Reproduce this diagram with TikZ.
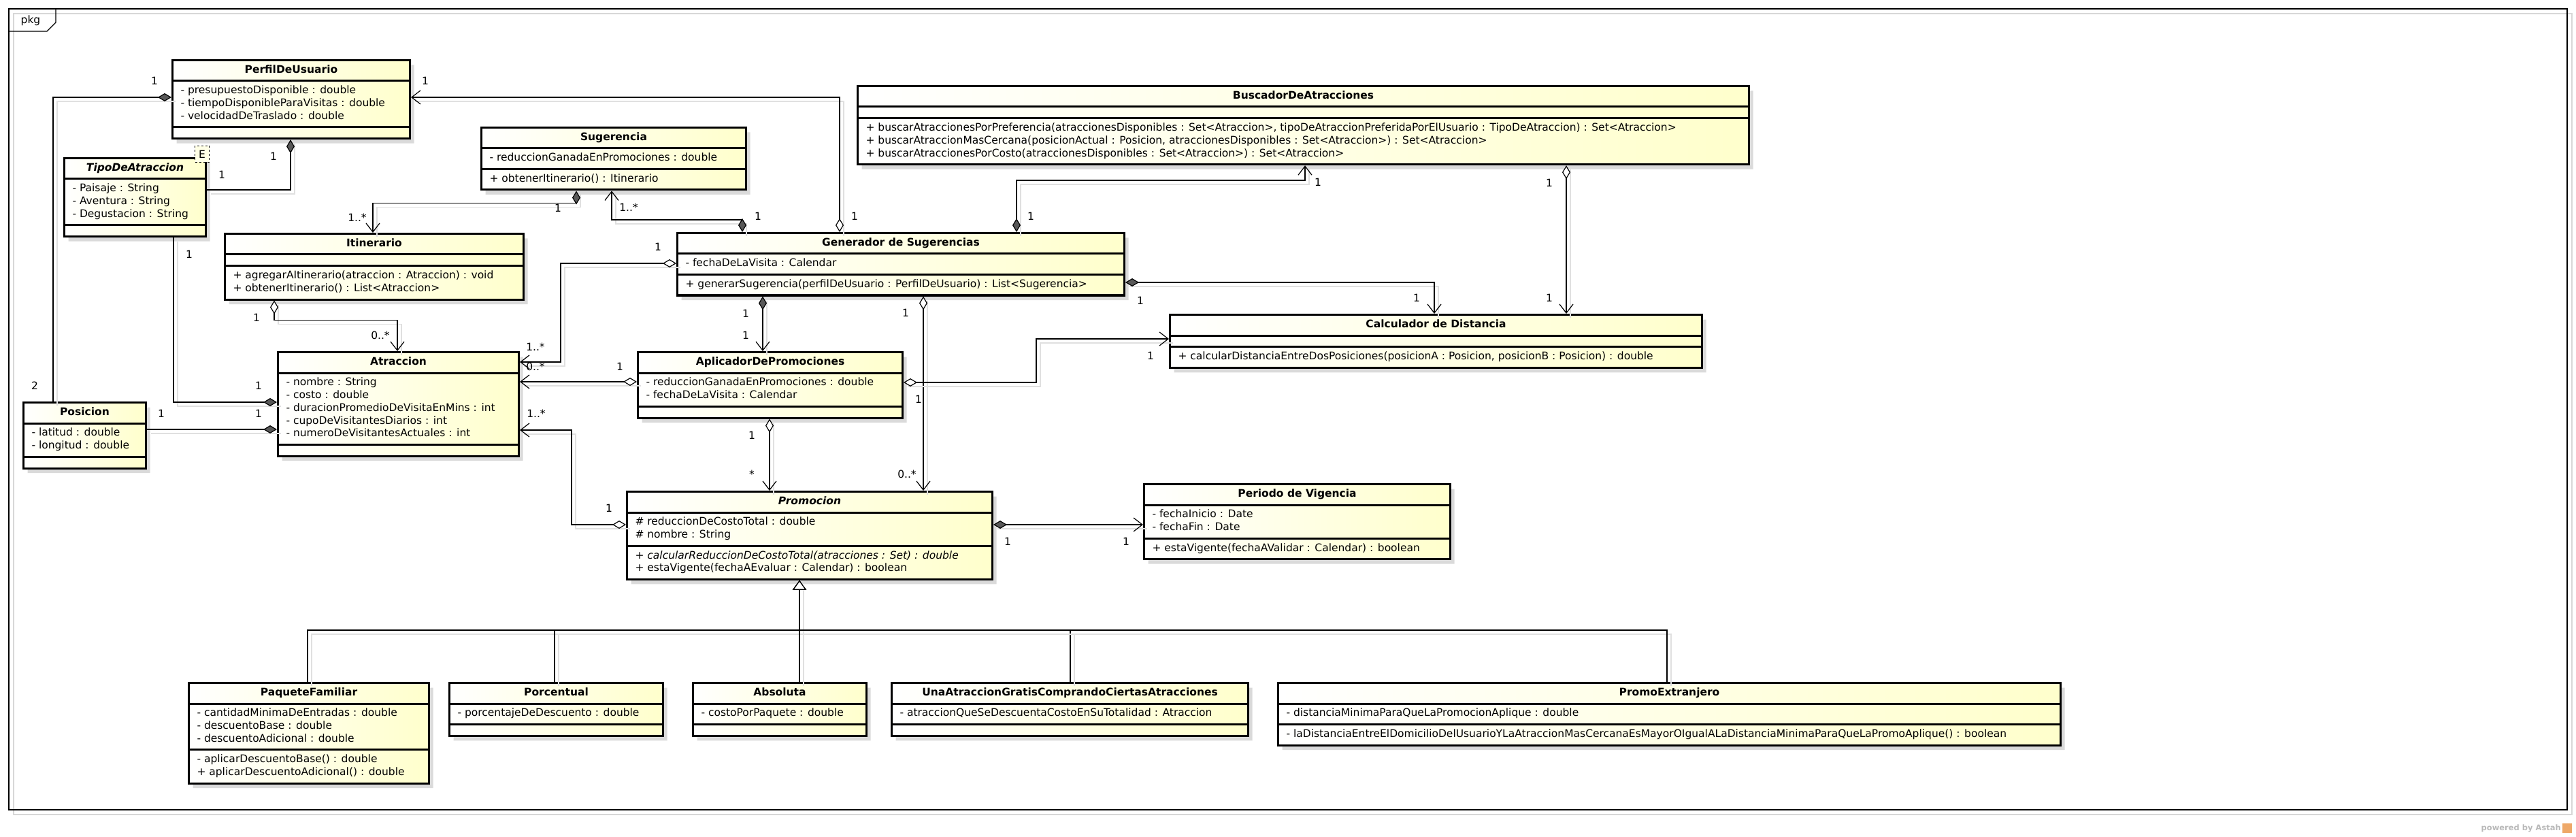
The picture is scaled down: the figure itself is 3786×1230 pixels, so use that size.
\documentclass[tikz,border=0pt]{standalone}
\usepackage{fontspec}
\setmainfont{DejaVu Sans}
\usetikzlibrary{shapes.multipart, arrows.meta, positioning, shadows}
\definecolor{UMLYellow}{RGB}{255, 255, 204}
\definecolor{UMLShadow}{RGB}{218, 218, 218}
\definecolor{UMLLineShadow}{RGB}{224, 224, 224}
\definecolor{UMLDiamond}{RGB}{88, 88, 88}
\definecolor{UMLFrameShadow}{RGB}{215, 215, 215}
\definecolor{AstahGrey}{RGB}{185, 185, 185}
\definecolor{AstahOrange}{RGB}{238, 168, 104}
\newcommand{\emptypart}{\rule{0pt}{5pt}}

\begin{document}
\begin{tikzpicture}[
    x=1pt, y=-1pt,
    % --- STYLES ---
    % Base: DejaVu Sans at the size Astah prints
    base/.style={
        font=\fontsize{15.5}{18.7}\selectfont,
        text=black
    },
    % Class: name, attributes, operations
    umlclass/.style={
        base,
        rectangle split,
        rectangle split parts=3,
        rectangle split part align={center,left,left},
        rectangle split ignore empty parts=false,
        align=left,
        draw=black,
        line width=0.8pt,
        left color=white,
        right color=UMLYellow,
        inner xsep=12pt,
        inner ysep=5.5pt,
        outer sep=1.5pt,
        anchor=north west,
        drop shadow={shadow xshift=6pt, shadow yshift=-7pt, fill=UMLShadow, opacity=1},
        postaction={draw=black, line width=3pt}
    },
    % Enumeration mark
    stereo/.style={
        base,
        draw=black,
        dashed,
        line width=0.8pt,
        fill=UMLYellow!50,
        minimum width=21pt,
        minimum height=24pt,
        inner sep=0pt
    },
    % Multiplicities
    mult/.style={
        base,
        inner sep=0pt
    },
    % Links: thin black line with a grey copy below right
    link/.style={
        line width=1.2pt,
        draw=black,
        preaction={draw=UMLLineShadow, line width=1.6pt, arrows=-, transform canvas={shift={(6pt,-6pt)}}}
    },
    % Composition, no navigation
    comp/.style={
        link,
        {Diamond[length=20pt, width=12pt, fill=UMLDiamond]}-
    },
    % Composition, navigable
    compnav/.style={
        link,
        {Diamond[length=20pt, width=12pt, fill=UMLDiamond]}-{Straight Barb[length=13pt, width=20pt]}
    },
    % Aggregation, navigable
    aggrnav/.style={
        link,
        {Diamond[length=20pt, width=12pt, fill=white]}-{Straight Barb[length=13pt, width=20pt]}
    },
    % Generalization
    inherit/.style={
        link,
        -{Triangle[length=14pt, width=20pt, fill=white]}
    },
    frameline/.style={
        draw=black,
        line width=1.4pt
    }
]

\useasboundingbox (0,0) rectangle (3786,1230);

% --- FRAME ---
\draw [draw=UMLFrameShadow, line width=1.4pt] (20,20) rectangle (3780,1197);
\draw [frameline] (13,13) rectangle (3773,1190);
\draw [frameline] (13,46) -- (69,46) -- (82,33) -- (82,13);
\node (pkg) [base] at (45,30) {pkg};

% --- 1. PROFILE, TYPES AND ATTRACTIONS ---

\node (perfil) [umlclass, minimum width=349pt] at (252,87)
    {\strut\textbf{PerfilDeUsuario}%
     \nodepart{two}\strut- presupuestoDisponible : double\\- tiempoDisponibleParaVisitas : double\\- velocidadDeTraslado : double\strut%
     \nodepart{three}\emptypart};
\node (tipo) [umlclass, minimum width=208pt] at (93,231)
    {\strut\textbf{\textit{TipoDeAtraccion}}%
     \nodepart{two}\strut- Paisaje : String\\- Aventura : String\\- Degustacion : String\strut%
     \nodepart{three}\emptypart};
\node (tipoE) [stereo, anchor=north east] at ([xshift=4pt, yshift=17pt]tipo.north east) {E};
\node (itinerario) [umlclass, minimum width=439pt] at (329,342)
    {\strut\textbf{Itinerario}%
     \nodepart{two}\emptypart%
     \nodepart{three}\strut+ agregarAItinerario(atraccion : Atraccion) : void\\+ obtenerItinerario() : List<Atraccion>\strut};
\node (posicion) [umlclass, minimum width=180pt] at (33,590)
    {\strut\textbf{Posicion}%
     \nodepart{two}\strut- latitud : double\\- longitud : double\strut%
     \nodepart{three}\emptypart};
\node (atraccion) [umlclass, minimum width=354pt] at (407,516)
    {\strut\textbf{Atraccion}%
     \nodepart{two}\strut- nombre : String\\- costo : double\\- duracionPromedioDeVisitaEnMins : int\\- cupoDeVisitantesDiarios : int\\- numeroDeVisitantesActuales : int\strut%
     \nodepart{three}\emptypart};

% --- 2. SUGGESTION ENGINE ---

\node (sugerencia) [umlclass, minimum width=389pt] at (706,186)
    {\strut\textbf{Sugerencia}%
     \nodepart{two}\strut- reduccionGanadaEnPromociones : double\strut%
     \nodepart{three}\strut+ obtenerItinerario() : Itinerario\strut};
\node (generador) [umlclass, minimum width=657pt] at (994,341)
    {\strut\textbf{Generador de Sugerencias}%
     \nodepart{two}\strut- fechaDeLaVisita : Calendar\strut%
     \nodepart{three}\strut+ generarSugerencia(perfilDeUsuario : PerfilDeUsuario) : List<Sugerencia>\strut};
\node (buscador) [umlclass, minimum width=1310pt] at (1259,125)
    {\strut\textbf{BuscadorDeAtracciones}%
     \nodepart{two}\emptypart%
     \nodepart{three}\strut+ buscarAtraccionesPorPreferencia(atraccionesDisponibles : Set<Atraccion>, tipoDeAtraccionPreferidaPorElUsuario : TipoDeAtraccion) : Set<Atraccion>\\+ buscarAtraccionMasCercana(posicionActual : Posicion, atraccionesDisponibles : Set<Atraccion>) : Set<Atraccion>\\+ buscarAtraccionesPorCosto(atraccionesDisponibles : Set<Atraccion>) : Set<Atraccion>\strut};
\node (calculador) [umlclass, minimum width=782pt] at (1718,461)
    {\strut\textbf{Calculador de Distancia}%
     \nodepart{two}\emptypart%
     \nodepart{three}\strut+ calcularDistanciaEntreDosPosiciones(posicionA : Posicion, posicionB : Posicion) : double\strut};

% --- 3. PROMOTIONS ---

\node (aplicador) [umlclass, minimum width=389pt] at (936,516)
    {\strut\textbf{AplicadorDePromociones}%
     \nodepart{two}\strut- reduccionGanadaEnPromociones : double\\- fechaDeLaVisita : Calendar\strut%
     \nodepart{three}\emptypart};
\node (promocion) [umlclass, minimum width=537pt] at (920,721)
    {\strut\textbf{\textit{Promocion}}%
     \nodepart{two}\strut\# reduccionDeCostoTotal : double\\\# nombre : String\strut%
     \nodepart{three}\strut+ \textit{calcularReduccionDeCostoTotal(atracciones : Set) : double}\\+ estaVigente(fechaAEvaluar : Calendar) : boolean\strut};
\node (periodo) [umlclass, minimum width=450pt] at (1680,710)
    {\strut\textbf{Periodo de Vigencia}%
     \nodepart{two}\strut- fechaInicio : Date\\- fechaFin : Date\strut%
     \nodepart{three}\strut+ estaVigente(fechaAValidar : Calendar) : boolean\strut};

% --- 4. PROMOTION KINDS (Row, Left to Right) ---

\node (paquete) [umlclass, minimum width=353pt] at (276,1002)
    {\strut\textbf{PaqueteFamiliar}%
     \nodepart{two}\strut- cantidadMinimaDeEntradas : double\\- descuentoBase : double\\- descuentoAdicional : double\strut%
     \nodepart{three}\strut- aplicarDescuentoBase() : double\\+ aplicarDescuentoAdicional() : double\strut};
\node (porcentual) [umlclass, minimum width=314pt, right=27pt of paquete.north east, anchor=north west]
    {\strut\textbf{Porcentual}%
     \nodepart{two}\strut- porcentajeDeDescuento : double\strut%
     \nodepart{three}\emptypart};
\node (absoluta) [umlclass, minimum width=255pt, right=41pt of porcentual.north east, anchor=north west]
    {\strut\textbf{Absoluta}%
     \nodepart{two}\strut- costoPorPaquete : double\strut%
     \nodepart{three}\emptypart};
\node (gratis) [umlclass, minimum width=524pt, right=34pt of absoluta.north east, anchor=north west]
    {\strut\textbf{UnaAtraccionGratisComprandoCiertasAtracciones}%
     \nodepart{two}\strut- atraccionQueSeDescuentaCostoEnSuTotalidad : Atraccion\strut%
     \nodepart{three}\emptypart};
\node (extranjero) [umlclass, minimum width=1150pt, right=41pt of gratis.north east, anchor=north west]
    {\strut\textbf{PromoExtranjero}%
     \nodepart{two}\strut- distanciaMinimaParaQueLaPromocionAplique : double\strut%
     \nodepart{three}\strut- laDistanciaEntreElDomicilioDelUsuarioYLaAtraccionMasCercanaEsMayorOIgualALaDistanciaMinimaParaQueLaPromoAplique() : boolean\strut};

% --- CONNECTIONS ---

% Compositions without navigation
\draw [comp] (perfil.west |- 0,143) node [mult, xshift=-25pt, yshift=24pt] {1}
    -| (posicion.north -| 78,0) node [mult, xshift=-27pt, yshift=23pt] {2};
\draw [comp] (perfil.south -| 427,0) node [mult, xshift=-25pt, yshift=-25pt] {1}
    |- (tipo.east |- 0,279) node [mult, xshift=22pt, yshift=22pt] {1};
\draw [comp] (atraccion.west |- 0,591) node [mult, xshift=-27pt, yshift=24pt] {1}
    -| (tipo.south -| 255,0) node [mult, xshift=23pt, yshift=-25pt] {1};
\draw [comp] (atraccion.west |- 0,631) node [mult, xshift=-27pt, yshift=23pt] {1}
    -- (posicion.east |- 0,631) node [mult, xshift=21pt, yshift=23pt] {1};

% Compositions with navigation
\draw [compnav] (sugerencia.south -| 847,0) node [mult, xshift=-27pt, yshift=-25pt] {1}
    -- ++(0,18) -| (itinerario.north -| 548,0) node [mult, xshift=-23pt, yshift=22pt] {1..*};
\draw [compnav] (generador.north -| 1091,0) node [mult, xshift=23pt, yshift=23pt] {1}
    -- ++(0,-18) -| (sugerencia.south -| 899,0) node [mult, xshift=25pt, yshift=-24pt] {1..*};
\draw [compnav] (generador.north -| 1494,0) node [mult, xshift=21pt, yshift=23pt] {1}
    -- ++(0,-76) -| (buscador.south -| 1918,0) node [mult, xshift=19pt, yshift=-25pt] {1};
\draw [compnav] (generador.east |- 0,415) node [mult, xshift=22pt, yshift=-27pt] {1}
    -| (calculador.north -| 2108,0) node [mult, xshift=-26pt, yshift=23pt] {1};
\draw [compnav] (generador.south -| 1121,0) node [mult, xshift=-25pt, yshift=-25pt] {1}
    -- (aplicador.north -| 1121,0) node [mult, xshift=-25pt, yshift=23pt] {1};
\draw [compnav] (promocion.east |- 0,771) node [mult, xshift=21pt, yshift=-25pt] {1}
    -- (periodo.west |- 0,771) node [mult, xshift=-25pt, yshift=-25pt] {1};

% Aggregations with navigation
\draw [aggrnav] (itinerario.south -| 403,0) node [mult, xshift=-26pt, yshift=-25pt] {1}
    -- ++(0,29) -| (atraccion.north -| 584,0) node [mult, xshift=-25pt, yshift=23pt] {0..*};
\draw [aggrnav] (generador.north -| 1234,0) node [mult, xshift=22pt, yshift=23pt] {1}
    |- (perfil.east |- 0,143) node [mult, xshift=21pt, yshift=24pt] {1};
\draw [aggrnav] (buscador.south -| 2302,0) node [mult, xshift=-25pt, yshift=-26pt] {1}
    -- (calculador.north -| 2302,0) node [mult, xshift=-25pt, yshift=23pt] {1};
\draw [aggrnav] (generador.west |- 0,387) node [mult, xshift=-27pt, yshift=24pt] {1}
    -- ++(-170,0) |- (atraccion.east |- 0,532) node [mult, xshift=23pt, yshift=22pt] {1..*};
\draw [aggrnav] (aplicador.west |- 0,561) node [mult, xshift=-25pt, yshift=22pt] {1}
    -- (atraccion.east |- 0,561) node [mult, xshift=23pt, yshift=22pt] {0..*};
\draw [aggrnav] (promocion.west |- 0,771) node [mult, xshift=-25pt, yshift=24pt] {1}
    -- ++(-80,0) |- (atraccion.east |- 0,632) node [mult, xshift=24pt, yshift=24pt] {1..*};
\draw [aggrnav] (generador.south -| 1357,0) node [mult, xshift=-26pt, yshift=-24pt] {1}
    -- (promocion.north -| 1357,0) node [mult, xshift=-24pt, yshift=24pt] {0..*};
\draw [aggrnav] (aplicador.east |- 0,562) node [mult, xshift=22pt, yshift=-25pt] {1}
    -- ++(195,0) |- (calculador.west |- 0,498) node [mult, xshift=-27pt, yshift=-25pt] {1};
\draw [aggrnav] (aplicador.south -| 1131,0) node [mult, xshift=-26pt, yshift=-24pt] {1}
    -- (promocion.north -| 1131,0) node [mult, xshift=-26pt, yshift=24pt] {*};

% Generalizations to Promocion
\draw [inherit] (paquete.north -| 452,0) -- ++(0,-76) -| (promocion.south -| 1175,0);
\draw [inherit] (porcentual.north -| 815,0) -- ++(0,-76) -| (promocion.south -| 1175,0);
\draw [inherit] (absoluta.north -| 1175,0) -- (promocion.south -| 1175,0);
\draw [inherit] (gratis.north -| 1573,0) -- ++(0,-76) -| (promocion.south -| 1175,0);
\draw [inherit] (extranjero.north -| 2450,0) -- ++(0,-76) -| (promocion.south -| 1175,0);

% --- FOOTER ---
\node (powered) [font=\fontsize{11.5}{13}\selectfont\bfseries, text=AstahGrey, anchor=east, inner sep=0pt] at (3764,1217) {powered by Astah};
\node (astahlogo) [fill=AstahOrange, minimum size=14pt, inner sep=0pt, right=2pt of powered] {};

\end{tikzpicture}
\end{document}
